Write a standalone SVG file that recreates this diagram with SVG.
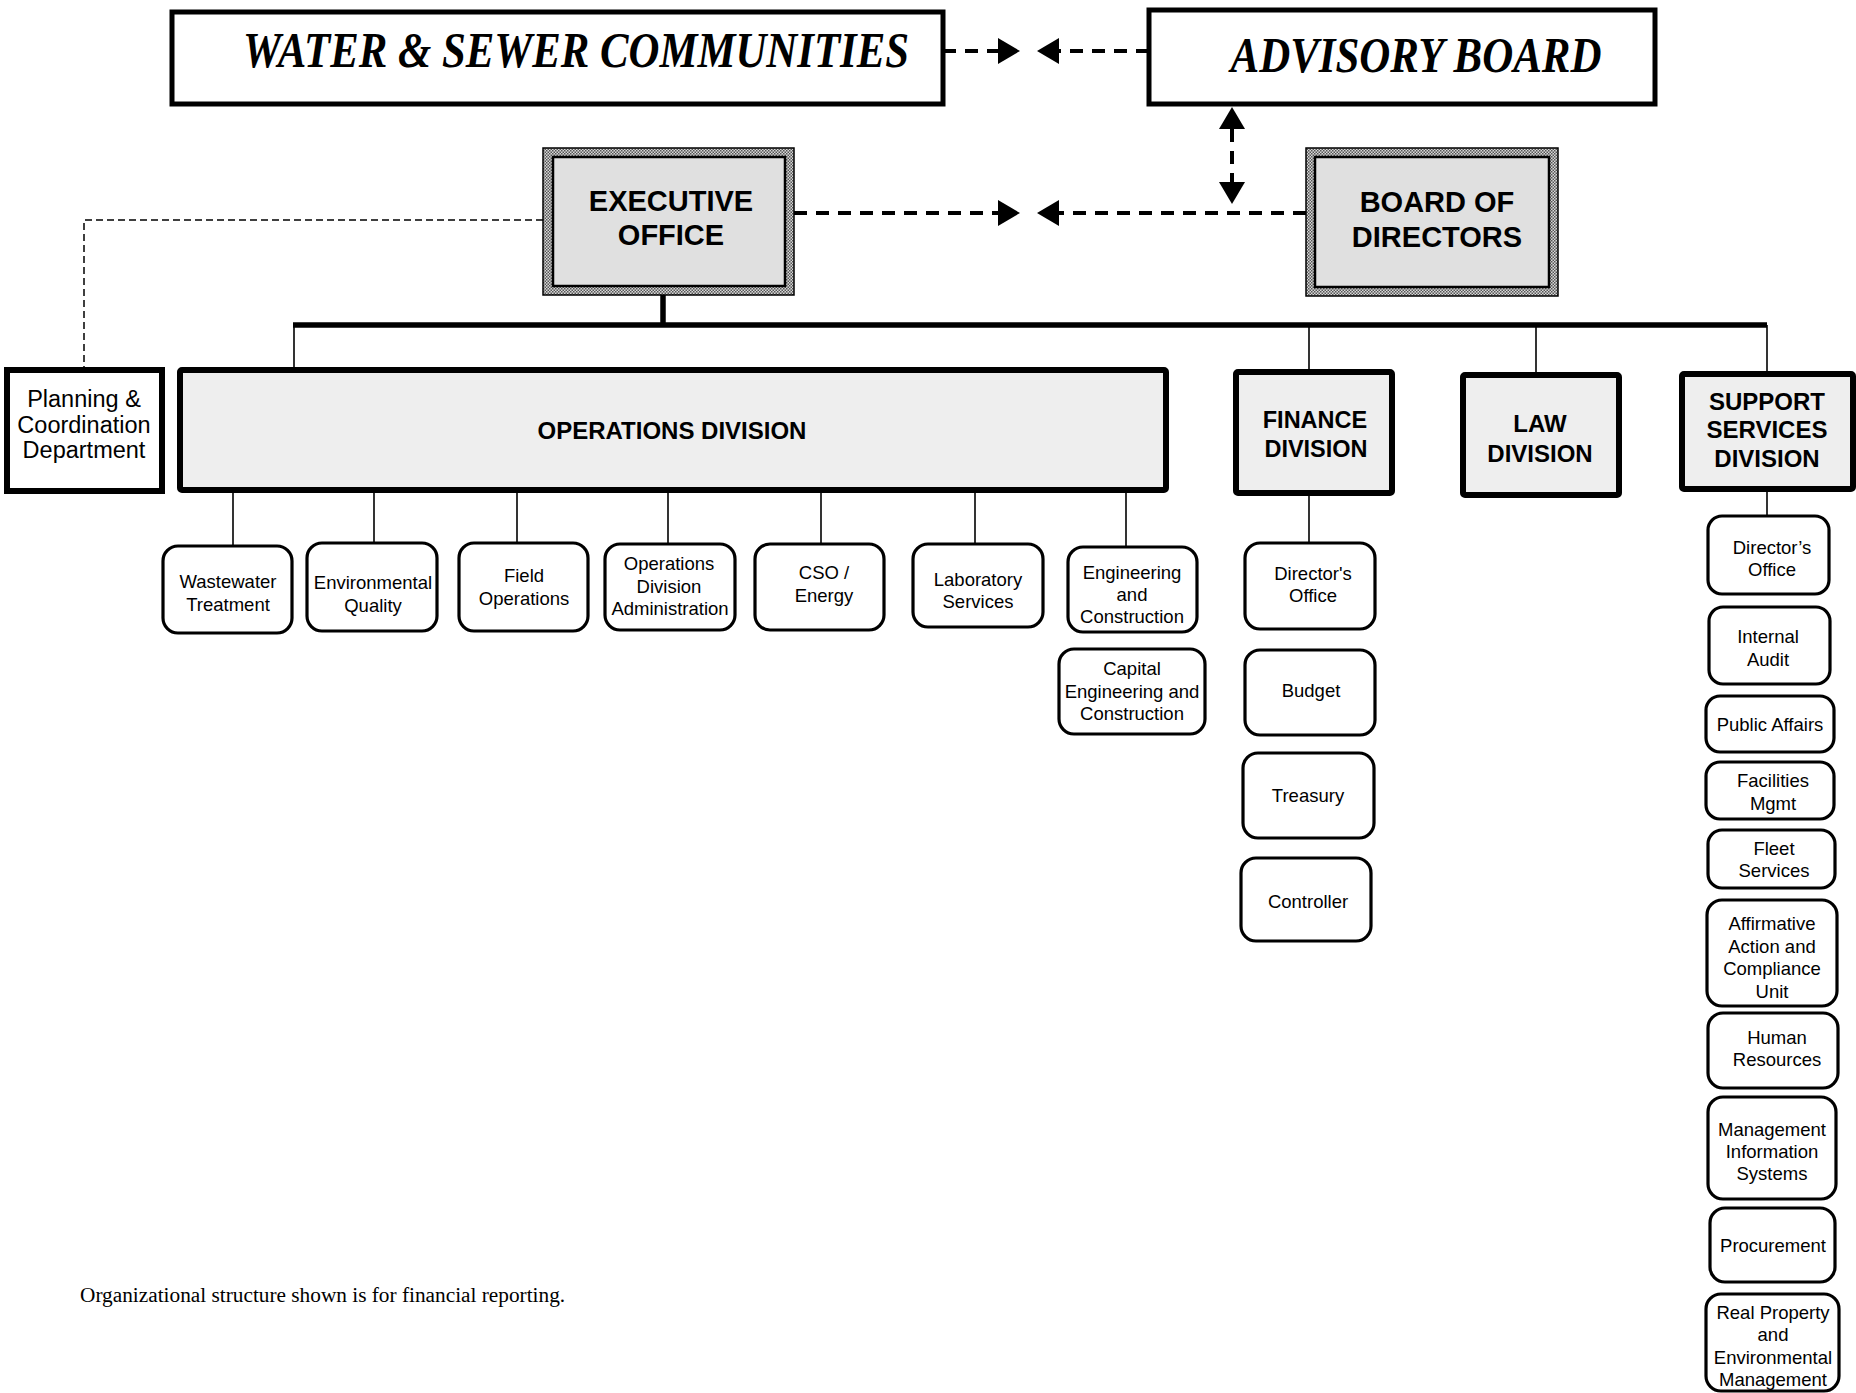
<svg xmlns="http://www.w3.org/2000/svg" width="1856" height="1393" viewBox="0 0 1856 1393">
<style>
.bg{fill:#ffffff}
.top{fill:#ffffff;stroke:#000;stroke-width:5}
.title{font-family:"Liberation Serif","Times New Roman",serif;font-weight:bold;font-style:italic;font-size:50px;fill:#000}
.hatch{fill:url(#hp);stroke:#000;stroke-width:1.5}
.inner{fill:#e0e0e0;stroke:#000;stroke-width:2.5}
.div{fill:#eeeeee;stroke:#000;stroke-width:6}
.plan{fill:#ffffff;stroke:#000;stroke-width:6}
.sub{fill:#ffffff;stroke:#000;stroke-width:3.2}
.bt{font-family:"Liberation Sans",Arial,sans-serif;font-weight:bold;fill:#000;text-anchor:middle}
.t{font-family:"Liberation Sans",Arial,sans-serif;font-size:18.5px;fill:#000;text-anchor:middle}
.pt{font-family:"Liberation Sans",Arial,sans-serif;font-size:23.5px;fill:#000;text-anchor:middle}
.dash{stroke:#000;stroke-width:4;stroke-dasharray:13 9;fill:none}
.thin{stroke:#000;stroke-width:1.6;fill:none}
.thindash{stroke:#000;stroke-width:1.5;stroke-dasharray:7 4;fill:none}
.bar{stroke:#000;stroke-width:5.5;fill:none}
.foot{font-family:"Liberation Serif","Times New Roman",serif;font-size:21.3px;fill:#000}
</style>
<defs>
<pattern id="hp" width="3" height="3" patternUnits="userSpaceOnUse">
<rect width="3" height="3" fill="#d8d8d8"/>
<rect width="1.5" height="1.5" fill="#555"/>
<rect x="1.5" y="1.5" width="1.5" height="1.5" fill="#555"/>
</pattern>
<marker id="ah" markerWidth="24" markerHeight="28" refX="0" refY="13" orient="auto-start-reverse" markerUnits="userSpaceOnUse">
<path d="M0,0 L22,13 L0,26 z" fill="#000"/>
</marker>
</defs>
<rect class="bg" width="1856" height="1393"/>

<g id="connectors">
<line class="dash" x1="943" y1="51" x2="998" y2="51" marker-end="url(#ah)"/>
<line class="dash" x1="1149" y1="51" x2="1059" y2="51" marker-end="url(#ah)"/>
<line class="dash" x1="794" y1="213" x2="998" y2="213" marker-end="url(#ah)"/>
<line class="dash" x1="1306" y1="213" x2="1059" y2="213" marker-end="url(#ah)"/>
<line class="dash" x1="1232" y1="129" x2="1232" y2="182" stroke-dasharray="12 8" marker-start="url(#ah)" marker-end="url(#ah)"/>
<polyline class="thindash" points="543,220 84,220 84,369"/>
<line class="bar" x1="663" y1="295" x2="663" y2="325"/>
<line class="bar" x1="293" y1="325" x2="1767" y2="325"/>
<line class="thin" x1="294" y1="325" x2="294" y2="368"/>
<line class="thin" x1="1309" y1="325" x2="1309" y2="370"/>
<line class="thin" x1="1536" y1="325" x2="1536" y2="373"/>
<line class="thin" x1="1767" y1="325" x2="1767" y2="372"/>
<line class="thin" x1="233" y1="491" x2="233" y2="546"/>
<line class="thin" x1="374" y1="491" x2="374" y2="543"/>
<line class="thin" x1="517" y1="491" x2="517" y2="543"/>
<line class="thin" x1="668" y1="491" x2="668" y2="544"/>
<line class="thin" x1="821" y1="491" x2="821" y2="544"/>
<line class="thin" x1="975" y1="491" x2="975" y2="544"/>
<line class="thin" x1="1126" y1="491" x2="1126" y2="547"/>
<line class="thin" x1="1309" y1="494" x2="1309" y2="543"/>
<line class="thin" x1="1767" y1="490" x2="1767" y2="516"/>
</g>

<g id="water-sewer">
<rect class="top" x="172" y="12" width="771" height="92"/>
<text class="title" x="576" y="67" text-anchor="middle" textLength="666" lengthAdjust="spacingAndGlyphs">WATER &amp; SEWER COMMUNITIES</text>
</g>
<g id="advisory-board">
<rect class="top" x="1149" y="10" width="506" height="94"/>
<text class="title" x="1416" y="72" text-anchor="middle" textLength="371" lengthAdjust="spacingAndGlyphs">ADVISORY BOARD</text>
</g>
<g id="executive-office">
<rect class="hatch" x="543" y="148" width="251" height="147"/>
<rect class="inner" x="553" y="157" width="232" height="129"/>
<text class="bt" font-size="29" x="671" y="211">EXECUTIVE</text>
<text class="bt" font-size="29" x="671" y="245">OFFICE</text>
</g>
<g id="board-of-directors">
<rect class="hatch" x="1306" y="148" width="252" height="148"/>
<rect class="inner" x="1315" y="157" width="234" height="130"/>
<text class="bt" font-size="29" x="1437" y="212">BOARD OF</text>
<text class="bt" font-size="29" x="1437" y="247">DIRECTORS</text>
</g>

<g id="planning">
<rect class="plan" x="7" y="370" width="155" height="121"/>
<text class="pt" x="84" y="407">Planning &amp;</text>
<text class="pt" x="84" y="433">Coordination</text>
<text class="pt" x="84" y="458">Department</text>
</g>
<g id="operations-division">
<rect class="div" x="180" y="370" width="986" height="120" rx="2"/>
<text class="bt" font-size="24" x="672" y="439">OPERATIONS DIVISION</text>
</g>
<g id="finance-division">
<rect class="div" x="1236" y="372" width="156" height="121" rx="2"/>
<text class="bt" font-size="23.5" x="1315" y="428">FINANCE</text>
<text class="bt" font-size="23.5" x="1316" y="457">DIVISION</text>
</g>
<g id="law-division">
<rect class="div" x="1463" y="375" width="156" height="120" rx="2"/>
<text class="bt" font-size="24" x="1540" y="432">LAW</text>
<text class="bt" font-size="24" x="1540" y="462">DIVISION</text>
</g>
<g id="support-services-division">
<rect class="div" x="1682" y="374" width="171" height="115" rx="2"/>
<text class="bt" font-size="24" x="1767" y="410">SUPPORT</text>
<text class="bt" font-size="24" x="1767" y="438">SERVICES</text>
<text class="bt" font-size="24" x="1767" y="467">DIVISION</text>
</g>

<g id="wastewater-treatment">
<rect class="sub" x="163" y="546" width="129" height="87" rx="15"/>
<text class="t" x="228" y="588">Wastewater</text>
<text class="t" x="228" y="611">Treatment</text>
</g>
<g id="environmental-quality">
<rect class="sub" x="307" y="543" width="130" height="88" rx="15"/>
<text class="t" x="373" y="589">Environmental</text>
<text class="t" x="373" y="612">Quality</text>
</g>
<g id="field-operations">
<rect class="sub" x="459" y="543" width="129" height="88" rx="15"/>
<text class="t" x="524" y="582">Field</text>
<text class="t" x="524" y="605">Operations</text>
</g>
<g id="operations-division-administration">
<rect class="sub" x="605" y="544" width="130" height="86" rx="15"/>
<text class="t" x="669" y="570">Operations</text>
<text class="t" x="669" y="593">Division</text>
<text class="t" x="670" y="615">Administration</text>
</g>
<g id="cso-energy">
<rect class="sub" x="755" y="544" width="129" height="86" rx="15"/>
<text class="t" x="824" y="579">CSO /</text>
<text class="t" x="824" y="602">Energy</text>
</g>
<g id="laboratory-services">
<rect class="sub" x="913" y="544" width="130" height="83" rx="15"/>
<text class="t" x="978" y="586">Laboratory</text>
<text class="t" x="978" y="608">Services</text>
</g>
<g id="engineering-construction">
<rect class="sub" x="1068" y="547" width="129" height="85" rx="15"/>
<text class="t" x="1132" y="579">Engineering</text>
<text class="t" x="1132" y="601">and</text>
<text class="t" x="1132" y="623">Construction</text>
</g>
<g id="capital-engineering-construction">
<rect class="sub" x="1059" y="649" width="146" height="85" rx="15"/>
<text class="t" x="1132" y="675">Capital</text>
<text class="t" x="1132" y="698">Engineering and</text>
<text class="t" x="1132" y="720">Construction</text>
</g>

<g id="fin-directors-office">
<rect class="sub" x="1245" y="543" width="130" height="86" rx="15"/>
<text class="t" x="1313" y="580">Director's</text>
<text class="t" x="1313" y="602">Office</text>
</g>
<g id="budget">
<rect class="sub" x="1245" y="650" width="130" height="85" rx="15"/>
<text class="t" x="1311" y="697">Budget</text>
</g>
<g id="treasury">
<rect class="sub" x="1243" y="753" width="131" height="85" rx="15"/>
<text class="t" x="1308" y="802">Treasury</text>
</g>
<g id="controller">
<rect class="sub" x="1241" y="858" width="130" height="83" rx="15"/>
<text class="t" x="1308" y="908">Controller</text>
</g>

<g id="ss-directors-office">
<rect class="sub" x="1708" y="516" width="121" height="78" rx="14"/>
<text class="t" x="1772" y="554">Director’s</text>
<text class="t" x="1772" y="576">Office</text>
</g>
<g id="internal-audit">
<rect class="sub" x="1709" y="607" width="121" height="77" rx="14"/>
<text class="t" x="1768" y="643">Internal</text>
<text class="t" x="1768" y="666">Audit</text>
</g>
<g id="public-affairs">
<rect class="sub" x="1706" y="696" width="128" height="56" rx="14"/>
<text class="t" x="1770" y="731">Public Affairs</text>
</g>
<g id="facilities-mgmt">
<rect class="sub" x="1706" y="762" width="128" height="57" rx="14"/>
<text class="t" x="1773" y="787">Facilities</text>
<text class="t" x="1773" y="810">Mgmt</text>
</g>
<g id="fleet-services">
<rect class="sub" x="1708" y="830" width="127" height="58" rx="14"/>
<text class="t" x="1774" y="855">Fleet</text>
<text class="t" x="1774" y="877">Services</text>
</g>
<g id="affirmative-action">
<rect class="sub" x="1707" y="900" width="130" height="106" rx="15"/>
<text class="t" x="1772" y="930">Affirmative</text>
<text class="t" x="1772" y="953">Action and</text>
<text class="t" x="1772" y="975">Compliance</text>
<text class="t" x="1772" y="998">Unit</text>
</g>
<g id="human-resources">
<rect class="sub" x="1708" y="1013" width="130" height="75" rx="15"/>
<text class="t" x="1777" y="1044">Human</text>
<text class="t" x="1777" y="1066">Resources</text>
</g>
<g id="mis">
<rect class="sub" x="1708" y="1097" width="128" height="102" rx="15"/>
<text class="t" x="1772" y="1136">Management</text>
<text class="t" x="1772" y="1158">Information</text>
<text class="t" x="1772" y="1180">Systems</text>
</g>
<g id="procurement">
<rect class="sub" x="1710" y="1208" width="125" height="74" rx="15"/>
<text class="t" x="1773" y="1252">Procurement</text>
</g>
<g id="real-property">
<rect class="sub" x="1706" y="1294" width="133" height="97" rx="15"/>
<text class="t" x="1773" y="1319">Real Property</text>
<text class="t" x="1773" y="1341">and</text>
<text class="t" x="1773" y="1364">Environmental</text>
<text class="t" x="1773" y="1386">Management</text>
</g>

<text class="foot" x="80" y="1302">Organizational structure shown is for financial reporting.</text>
</svg>
